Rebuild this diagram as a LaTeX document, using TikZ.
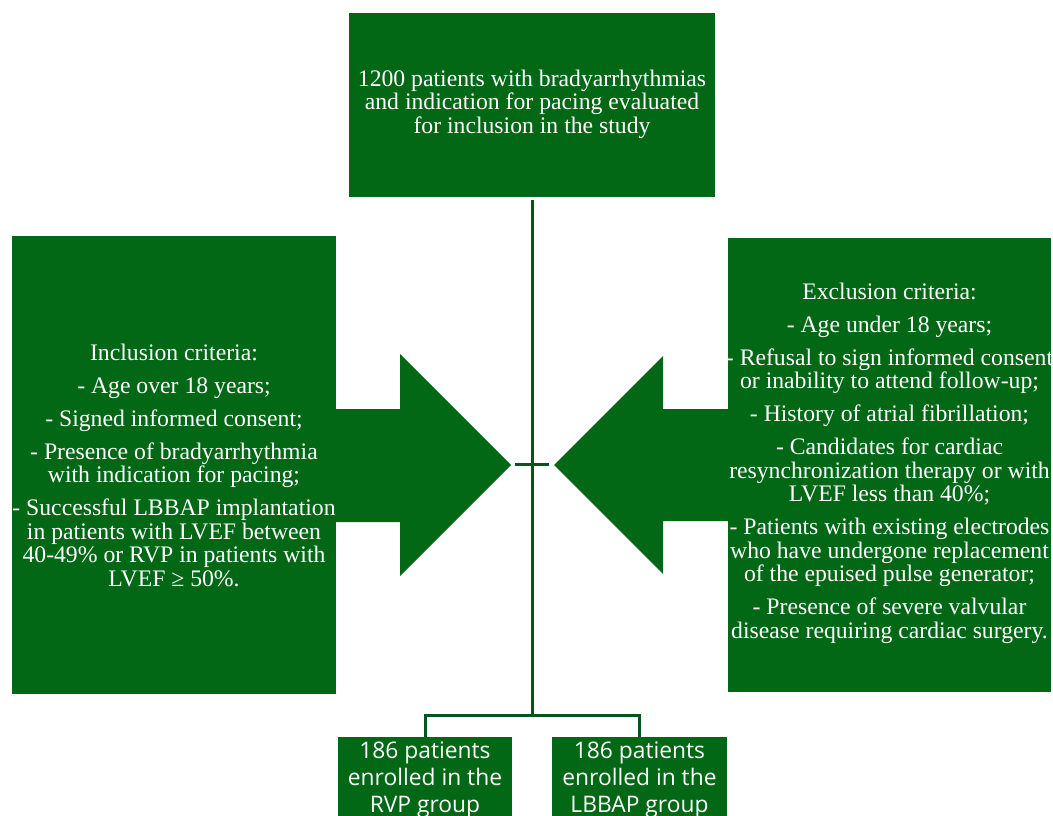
\documentclass[tikz,border=0pt]{standalone}
\usepackage{fontspec}
\setmainfont{Liberation Serif}
\newfontfamily\grpfont{Open Sans}
\definecolor{boxgreen}{RGB}{2,104,22}
\definecolor{linegreen}{RGB}{8,84,28}
\begin{document}
\begin{tikzpicture}[x=1pt,y=-1pt,
  gbox/.style={fill=boxgreen, draw=none, inner sep=0pt, rectangle},
  txt/.style={text=white, align=center, inner sep=0pt, font=\fontsize{23.7}{23.5}\selectfont},
  grp/.style={text=white, align=center, inner sep=0pt, font=\grpfont\fontsize{22.8}{27}\selectfont},
  conn/.style={draw=linegreen, line width=3pt},
  blockarrow/.style={fill=boxgreen, draw=none}]
\useasboundingbox (0,0) rectangle (1053,816);
\clip (0,0) rectangle (1053,816);
\fill[white] (0,0) rectangle (1053,816);

% boxes
\node[gbox, minimum width=366pt, minimum height=184pt] (top) at (532,105) {};
\node[gbox, minimum width=324pt, minimum height=458pt] (inc) at (174,465) {};
\node[gbox, minimum width=323pt, minimum height=454pt] (exc) at (889.5,465) {};
\node[gbox, minimum width=174pt, minimum height=93pt] (rvp) at (425,783.5) {};
\node[gbox, minimum width=175pt, minimum height=93pt] (lbbap) at (639.5,783.5) {};

% block arrows
\fill[blockarrow] (330,409) -- (400,409) -- (400,354) -- (511,465) -- (400,576) -- (400,522) -- (330,522) -- cycle;
\fill[blockarrow] (735,409) -- (663,409) -- (663,356) -- (554,465) -- (663,574) -- (663,521) -- (735,521) -- cycle;

% connectors
\coordinate (junc) at (532,715);
\coordinate (tickL) at (515,464);
\coordinate (tickR) at (549,464);
\draw[conn] ([yshift=-3pt]top.south) -- (junc);
\draw[conn] (rvp.north) |- (junc) -| (lbbap.north);
\draw[conn] (tickL) -- (tickR);

% texts
\node[txt] (toptext) at (532,104) {1200 patients with bradyarrhythmias\\and indication for pacing evaluated\\for inclusion in the study};
\node[txt] (inctext) at (174,465) {Inclusion criteria:\\[9.5pt]
- Age over 18 years;\\[9.5pt]
- Signed informed consent;\\[9.5pt]
- Presence of bradyarrhythmia\\with indication for pacing;\\[9.5pt]
- Successful LBBAP implantation\\in patients with LVEF between\\40-49\% or RVP in patients with\\LVEF ≥ 50\%.};
\node[txt] (exctext) at (889.5,463) {Exclusion criteria:\\[9.5pt]
- Age under 18 years;\\[9.5pt]
- Refusal to sign informed consent\\or inability to attend follow-up;\\[9.5pt]
- History of atrial fibrillation;\\[9.5pt]
- Candidates for cardiac\\resynchronization therapy or with\\LVEF less than 40\%;\\[9.5pt]
- Patients with existing electrodes\\who have undergone replacement\\of the epuised pulse generator;\\[9.5pt]
- Presence of severe valvular\\disease requiring cardiac surgery.};
\node[grp] (rvptext) at (425,780) {186 patients\\enrolled in the\\RVP group};
\node[grp] (lbbaptext) at (639.5,780) {186 patients\\enrolled in the\\LBBAP group};
\end{tikzpicture}
\end{document}
